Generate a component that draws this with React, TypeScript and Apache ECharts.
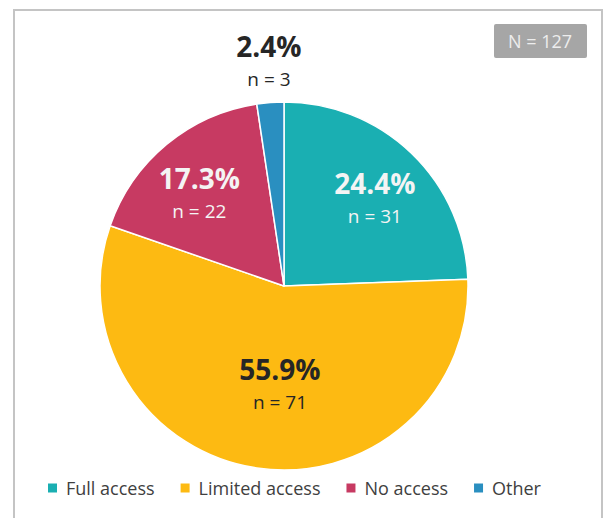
import React, { useEffect, useRef } from "react";
import * as echarts from "echarts";

const categories = ["Full access", "Limited access", "No access", "Other"];
const counts = [31, 71, 22, 3];
const totalLabel = "N = 127";

const colors = ["#1AAFB2", "#FDBA12", "#C73A62", "#2A8FC0"];
const labelColors = ["#F4F4F4", "#262626", "#F4F4F4", "#262626"];
// label offsets from ECharts' default inside position (styling only)
const labelShift: [number, number][] = [
  [25, -20],
  [10, 4],
  [-24, -20],
  [-8, -130],
];

export default function App() {
  const ref = useRef<HTMLDivElement>(null);
  useEffect(() => {
    if (!ref.current) return;
    const chart = echarts.init(ref.current, null, { renderer: "svg" });
    const font = "'Open Sans', sans-serif";
    chart.setOption({
      animation: false,
      backgroundColor: "#ffffff",
      color: colors,
      textStyle: { fontFamily: font },
      legend: {
        bottom: 16,
        left: 41,
        itemWidth: 11,
        itemHeight: 11,
        itemGap: 24,
        icon: "rect",
        textStyle: { fontSize: 18, color: "#404040", fontFamily: font, padding: [0, 0, 0, 3] },
        data: categories,
      },
      graphic: [
        {
          type: "rect",
          shape: { x: 14, y: 10, width: 588, height: 540 },
          style: { fill: "none", stroke: "#C4C4C4", lineWidth: 2 },
          silent: true,
        },
        {
          type: "rect",
          shape: { x: 494, y: 24, width: 93, height: 34, r: 2 },
          style: { fill: "#A6A6A6" },
        },
        {
          type: "text",
          x: 540,
          y: 41,
          style: {
            text: totalLabel,
            fill: "#EDEDED",
            font: `18px ${font}`,
            align: "center",
            verticalAlign: "middle",
          },
        },
      ],
      series: [
        {
          type: "pie",
          center: [284, 286],
          radius: 184,
          startAngle: 90,
          clockwise: true,
          percentPrecision: 1,
          itemStyle: { borderColor: "#ffffff", borderWidth: 1.5 },
          label: {
            show: true,
            position: "inside",
            formatter: (p: any) => `{p|${p.percent.toFixed(1)}%}\n{n|n = ${p.value}}`,
            rich: {
              p: { fontSize: 28, fontWeight: "bold", fontFamily: font, lineHeight: 36 },
              n: { fontSize: 19, fontFamily: font, lineHeight: 30 },
            },
          },
          labelLine: { show: false },
          labelLayout: (params: any) => ({
            dx: labelShift[params.dataIndex][0],
            dy: labelShift[params.dataIndex][1],
          }),
          emphasis: { disabled: true },
          data: categories.map((name, i) => ({
            name,
            value: counts[i],
            label: {
              rich: {
                p: { color: labelColors[i], fontSize: 28, fontWeight: "bold", fontFamily: font, lineHeight: 36 },
                n: { color: labelColors[i], fontSize: 19, fontFamily: font, lineHeight: 30 },
              },
            },
          })),
        },
      ],
    });
    return () => chart.dispose();
  }, []);
  return (
    <div
      ref={ref}
      style={{ position: "fixed", left: 0, top: 0, width: 609, height: 518 }}
    />
  );
}
